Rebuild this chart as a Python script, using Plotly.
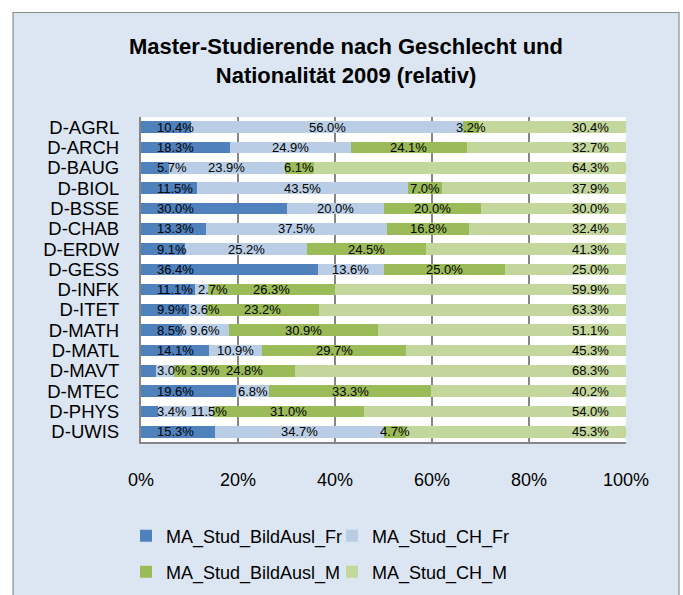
import plotly.graph_objects as go

# ---------------- data ----------------
categories = ["D-AGRL", "D-ARCH", "D-BAUG", "D-BIOL", "D-BSSE", "D-CHAB", "D-ERDW", "D-GESS",
              "D-INFK", "D-ITET", "D-MATH", "D-MATL", "D-MAVT", "D-MTEC", "D-PHYS", "D-UWIS"]
bild_fr = [10.4, 18.3, 5.7, 11.5, 30.0, 13.3, 9.1, 36.4, 11.1, 9.9, 8.5, 14.1, 3.0, 19.6, 3.4, 15.3]
ch_fr = [56.0, 24.9, 23.9, 43.5, 20.0, 37.5, 25.2, 13.6, 2.7, 3.6, 9.6, 10.9, 3.9, 6.8, 11.5, 34.7]
bild_m = [3.2, 24.1, 6.1, 7.0, 20.0, 16.8, 24.5, 25.0, 26.3, 23.2, 30.9, 29.7, 24.8, 33.3, 31.0, 4.7]
ch_m = [30.4, 32.7, 64.3, 37.9, 30.0, 32.4, 41.3, 25.0, 59.9, 63.3, 51.1, 45.3, 68.3, 40.2, 54.0, 45.3]
series_names = ["MA_Stud_BildAusl_Fr", "MA_Stud_CH_Fr", "MA_Stud_BildAusl_M", "MA_Stud_CH_M"]
x_ticks = [0, 20, 40, 60, 80, 100]
x_tick_labels = ["0%", "20%", "40%", "60%", "80%", "100%"]
title_text = "Master-Studierende nach Geschlecht und<br>Nationalität 2009 (relativ)"

# ---------------- style ----------------
colors = ["#4F81BD", "#B9CDE5", "#9BBB59", "#C3D69B"]
FONT = "Liberation Sans, Arial, sans-serif"
W, H = 683, 595
PL, PR, PT, PB = 141, 626, 117, 442
PW = PR - PL
GREY = "#868686"
LBL = 13

series = [bild_fr, ch_fr, bild_m, ch_m]
legend_ids = ["legend", "legend2", "legend3", "legend4"]

fig = go.Figure()
for i, (name, vals) in enumerate(zip(series_names, series)):
    fig.add_trace(go.Bar(
        y=categories, x=vals, name=name, orientation="h",
        marker=dict(color=colors[i], line=dict(width=0)),
        legend=legend_ids[i],
        hoverinfo="skip",
    ))


def text_w(s, size):
    w = 0.0
    for ch in s:
        if ch.isdigit():
            w += 0.556
        elif ch == ".":
            w += 0.278
        elif ch == "%":
            w += 0.889
        else:
            w += 0.5
    return w * size


lbl_font = dict(size=LBL, color="black", family=FONT)
annotations = []
for r, cat in enumerate(categories):
    vals = [s[r] for s in series]
    tot = sum(vals)
    shares = [v / tot * 100 for v in vals]
    cum = 0.0
    prev_right = None
    for k in range(4):
        label = f"{vals[k]:.1f}%"
        w = text_w(label, LBL)
        if k == 0:
            left = 14
            annotations.append(dict(x=0, y=cat, xref="x", yref="y", text=label, showarrow=False,
                                    xanchor="left", xshift=left, font=lbl_font))
            prev_right = left + w
        elif k < 3:
            center_val = cum + shares[k] / 2
            center_px = center_val / 100 * PW
            desired_left = center_px - w / 2
            shift = max(0.0, prev_right + 6 - desired_left)
            annotations.append(dict(x=center_val, y=cat, xref="x", yref="y", text=label, showarrow=False,
                                    xanchor="center", xshift=shift, font=lbl_font))
            prev_right = desired_left + shift + w
        else:
            annotations.append(dict(x=100, y=cat, xref="x", yref="y", text=label, showarrow=False,
                                    xanchor="right", xshift=-15, font=lbl_font))
        cum += shares[k]

# background box (chart area) and white plot area
box_l, box_r, box_t, box_b = 13, 679, 12.5, 605
shapes = [
    dict(type="rect", xref="paper", yref="paper", layer="below",
         x0=(box_l - PL) / PW, x1=(box_r - PL) / PW,
         y0=(PB - box_b) / (PB - PT), y1=(PB - box_t) / (PB - PT),
         fillcolor="#DCE6F2", line=dict(color="#8C8C8C", width=1.2)),
    dict(type="rect", xref="x", yref="paper", layer="below",
         x0=0, x1=100, y0=0, y1=1, fillcolor="white", line=dict(width=0)),
]

legend_pos = [(126, 536), (332, 536), (126, 572), (332, 572)]
legends = {}
for lid, (lx, ly) in zip(legend_ids, legend_pos):
    legends[lid] = dict(orientation="h", xref="container", yref="container", x=lx / W, y=1 - ly / H,
                        xanchor="left", yanchor="middle", itemwidth=30,
                        font=dict(size=18), bgcolor="rgba(0,0,0,0)")

fig.update_layout(
    width=W, height=H,
    margin=dict(l=PL, r=W - PR, t=PT, b=H - PB, pad=0),
    barmode="stack", barnorm="percent", bargap=0.43,
    paper_bgcolor="white", plot_bgcolor="white",
    font=dict(family=FONT, color="black", size=18),
    title=dict(text=title_text, x=346 / W, xref="container", xanchor="center",
               y=1 - 54 / H, yref="container", yanchor="middle", automargin=False,
               font=dict(size=22, family=FONT, color="black", weight="bold")),
    xaxis=dict(range=[0, 100], tickvals=x_ticks, ticktext=x_tick_labels, showgrid=True, gridcolor=GREY,
               gridwidth=1.5, zeroline=False, showline=True, linecolor=GREY, linewidth=1.5,
               ticks="", tickfont=dict(size=18), ticklabelstandoff=21, fixedrange=True, automargin=False),
    yaxis=dict(categoryorder="array", categoryarray=categories, autorange="reversed",
               tickmode="array", tickvals=categories, ticktext=categories,
               showgrid=False, zeroline=False, showline=True, linecolor=GREY, linewidth=2.2,
               ticks="", tickfont=dict(size=18.5), ticklabelstandoff=16, fixedrange=True, automargin=False),
    shapes=shapes,
    annotations=annotations,
    showlegend=True,
    **legends,
)

fig.write_html("out.html", config={"displayModeBar": False},
               post_script="document.body.style.margin='0px';")
